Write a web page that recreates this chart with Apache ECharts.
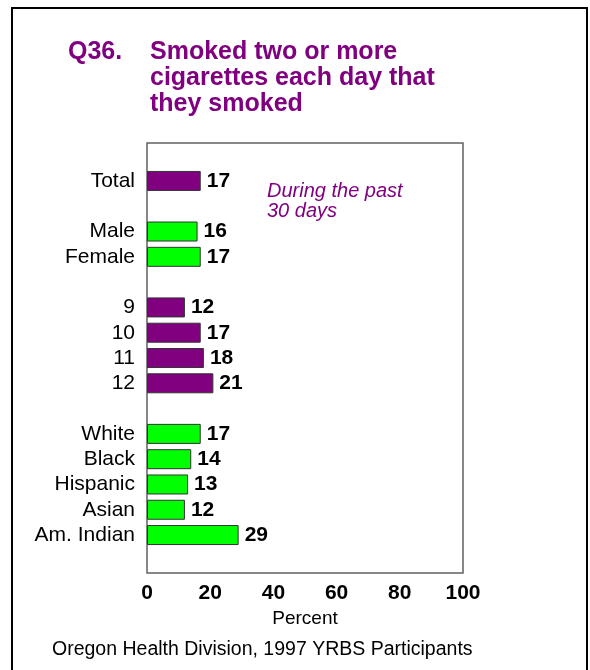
<!DOCTYPE html>
<html>
<head>
<meta charset="utf-8">
<script src="https://cdn.jsdelivr.net/npm/echarts@6/dist/echarts.min.js"></script>
<style>
html,body{margin:0;padding:0;background:#fff;}
#chart{width:590px;height:670px;}
</style>
</head>
<body>
<div id="chart"></div>
<script>
// Categories (gaps are empty group separators)
var categories = ['gap0', 'Total', 'gap1', 'Male', 'Female', 'gap2', '9', '10', '11', '12', 'gap3', 'White', 'Black', 'Hispanic', 'Asian', 'Am. Indian', 'gap4'];
var values     = [null, 17, null, 16, 17, null, 12, 17, 18, 21, null, 17, 14, 13, 12, 29, null];
var groups     = ['', 'all', '', 'sex', 'sex', '', 'grade', 'grade', 'grade', 'grade', '', 'race', 'race', 'race', 'race', 'race', ''];
var xTicks = [0, 20, 40, 60, 80, 100];

var titleQ = 'Q36.';
var titleText = 'Smoked two or more\ncigarettes each day that\nthey smoked';
var noteText = 'During the past\n30 days';
var axisName = 'Percent';
var footer = 'Oregon Health Division, 1997 YRBS Participants';

var PURPLE = '#800080';
var GREEN = '#00FF00';
var groupColor = { all: PURPLE, sex: GREEN, grade: PURPLE, race: GREEN };
var FONT = '"Liberation Sans", Arial, sans-serif';

var chart = echarts.init(document.getElementById('chart'), null, { renderer: 'canvas' });

var seriesData = values.map(function (v, i) {
  return {
    value: v,
    itemStyle: { color: groupColor[groups[i]] || PURPLE }
  };
});

var option = {
  backgroundColor: '#fff',
  animation: false,
  grid: {
    left: 147, right: 127, top: 143, bottom: 97,
    show: true, borderColor: '#606060', borderWidth: 1.5, backgroundColor: 'transparent'
  },
  xAxis: {
    type: 'value', min: 0, max: 100, interval: 20,
    axisLine: { show: false }, axisTick: { show: false }, splitLine: { show: false },
    axisLabel: {
      fontFamily: FONT, fontSize: 21, fontWeight: 'bold', color: '#000', margin: 10,
      formatter: function (v) { return xTicks.indexOf(v) >= 0 ? String(v) : ''; }
    },
    name: axisName, nameLocation: 'middle', nameGap: 36,
    nameTextStyle: { fontFamily: FONT, fontSize: 19, color: '#000' }
  },
  yAxis: {
    type: 'category', inverse: true, data: categories,
    axisLine: { show: false }, axisTick: { show: false }, splitLine: { show: false },
    axisLabel: {
      fontFamily: FONT, fontSize: 21, color: '#000', margin: 12, interval: 0,
      formatter: function (v) { return v.indexOf('gap') === 0 ? '' : v; }
    }
  },
  series: [{
    type: 'bar',
    data: seriesData,
    barWidth: 20,
    itemStyle: { borderColor: '#333', borderWidth: 1 },
    label: {
      show: true, position: 'right', distance: 6,
      fontFamily: FONT, fontSize: 21, fontWeight: 'bold', color: '#000',
      formatter: function (p) { return p.value == null ? '' : String(p.value); }
    }
  }],
  graphic: [
    { type: 'rect', shape: { x: 12, y: 8, width: 575, height: 680 },
      style: { fill: 'none', stroke: '#000', lineWidth: 2 }, silent: true },
    { type: 'text', x: 68, y: 52,
      style: { text: titleQ, font: 'bold 25px ' + FONT, fill: PURPLE, verticalAlign: 'middle', align: 'left' } },
    { type: 'text', x: 150, y: 78,
      style: { text: titleText, font: 'bold 25px ' + FONT, fill: PURPLE, lineHeight: 26, verticalAlign: 'middle', align: 'left' } },
    { type: 'text', x: 267, y: 201,
      style: { text: noteText, font: 'italic 20px ' + FONT, fill: PURPLE, lineHeight: 20, verticalAlign: 'middle', align: 'left' } },
    { type: 'text', x: 52, y: 650,
      style: { text: footer, font: '19.5px ' + FONT, fill: '#000', verticalAlign: 'middle', align: 'left' } }
  ]
};
chart.setOption(option);
</script>
</body>
</html>
